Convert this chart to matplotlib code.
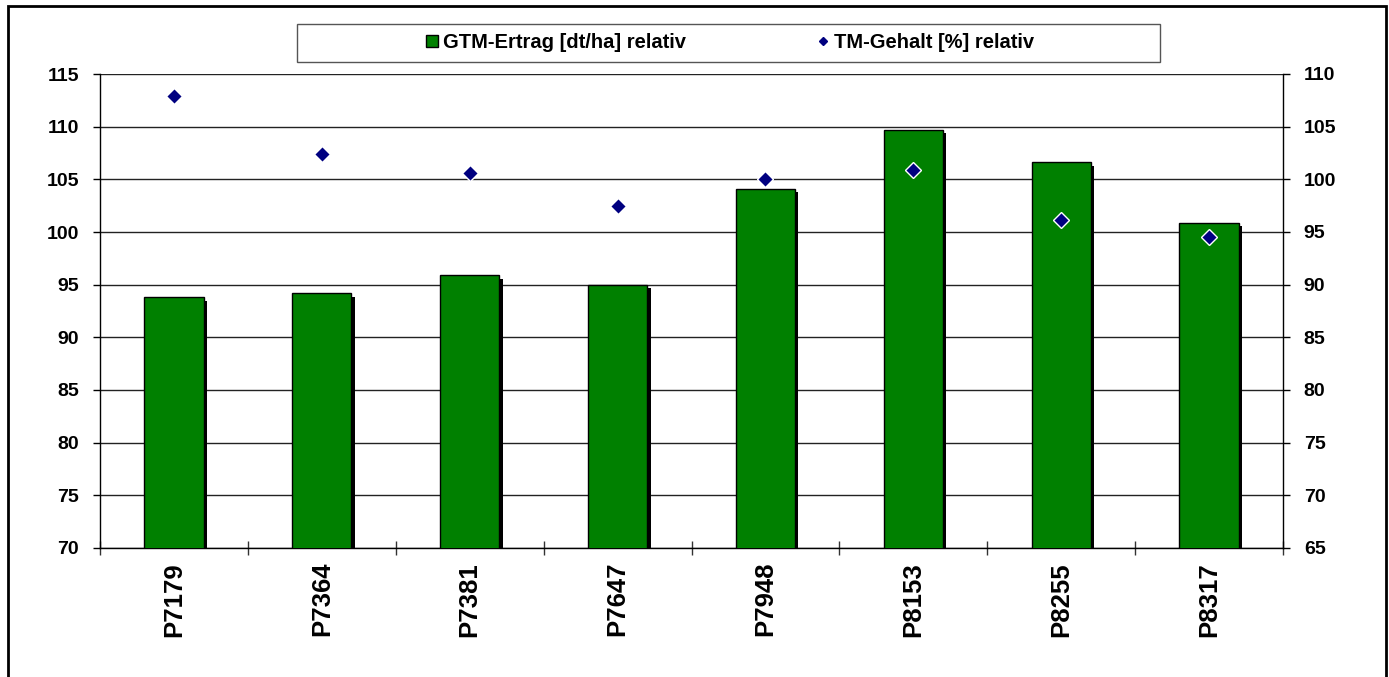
import matplotlib.pyplot as plt
import matplotlib.patheffects as pe
from matplotlib.lines import Line2D
from matplotlib.patches import Rectangle
import numpy as np

plt.rcParams['font.family'] = ['Liberation Sans', 'DejaVu Sans']
plt.rcParams['font.weight'] = 'bold'

# data
sorten = ["P7179", "P7364", "P7381", "P7647", "P7948", "P8153", "P8255", "P8317"]
gtm_ertrag = [93.8, 94.2, 95.9, 95.0, 104.1, 109.7, 106.6, 100.9]
tm_gehalt = [107.9, 102.4, 100.6, 97.5, 100.0, 100.9, 96.1, 94.5]

W, H = 1389, 677
fig = plt.figure(figsize=(W / 100, H / 100), dpi=100)
ax = fig.add_axes([100 / W, 1 - 548 / H, (1283 - 100) / W, (548 - 74) / H])

x = np.arange(len(sorten))
bars = ax.bar(x, gtm_ertrag, width=0.4, color='#008000', edgecolor='black',
              linewidth=1, zorder=3)
for b in bars:
    b.set_path_effects([pe.SimplePatchShadow(offset=(2.5, -2.5), shadow_rgbFace='black', alpha=1.0),
                        pe.Normal()])

ax.set_ylim(70, 115)
ax.set_xlim(-0.5, len(sorten) - 0.5)
ax.set_yticks(np.arange(70, 116, 5))
ax.grid(axis='y', color='#222222', linewidth=1, zorder=0)
ax.set_axisbelow(True)

ax.set_xticks(x)
ax.set_xticklabels(sorten, rotation=90, fontsize=18.5, fontweight='bold')
ax.tick_params(axis='x', which='major', length=0, pad=10)
ax.set_xticks(np.arange(-0.5, len(sorten)), minor=True)
ax.tick_params(axis='x', which='minor', direction='inout', length=10, width=1, color='#333333')
ax.tick_params(axis='y', length=5, width=1, pad=10, labelsize=14)
for lab in ax.get_yticklabels():
    lab.set_fontweight('bold')

ax.spines['top'].set_visible(False)
ax.spines['right'].set_visible(False)
ax.spines['left'].set_linewidth(1)
ax.spines['bottom'].set_linewidth(1)

ax2 = ax.twinx()
ax2.set_ylim(65, 110)
ax2.set_yticks(np.arange(65, 111, 5))
ax2.plot(x, tm_gehalt, linestyle='none', marker='D', markersize=8.5,
         markerfacecolor='#000080', markeredgecolor='white', markeredgewidth=1, zorder=5)
ax2.tick_params(axis='y', length=5, width=1, pad=10, labelsize=14)
for lab in ax2.get_yticklabels():
    lab.set_fontweight('bold')
for s in ['top', 'left', 'bottom']:
    ax2.spines[s].set_visible(False)
ax2.spines['right'].set_linewidth(1)

# legend box and entries
fig.patches.append(Rectangle((297 / W, 1 - 62 / H), (1160 - 297) / W, (62 - 24) / H,
                             transform=fig.transFigure, facecolor='white',
                             edgecolor='#555555', linewidth=1))
handles = [Line2D([], [], linestyle='none', marker='s', markersize=8,
                  markerfacecolor='#008000', markeredgecolor='black'),
           Line2D([], [], linestyle='none', marker='D', markersize=4.5,
                  markerfacecolor='#000080', markeredgecolor='#000080')]
fig.legend(handles, ["GTM-Ertrag [dt/ha] relativ", "TM-Gehalt [%] relativ"],
           loc='center', bbox_to_anchor=(729 / W, 1 - 43 / H), ncol=2, frameon=False,
           prop={'size': 14.5, 'weight': 'bold'}, handlelength=0.8, handletextpad=0.15,
           columnspacing=6.4)

# outer frame
fig.patches.append(Rectangle((8 / W, -0.05), (1386 - 8) / W, 1.05 - 6 / H,
                             transform=fig.transFigure, facecolor='none',
                             edgecolor='black', linewidth=2, clip_on=False))

fig.savefig('out.png', dpi=100)
